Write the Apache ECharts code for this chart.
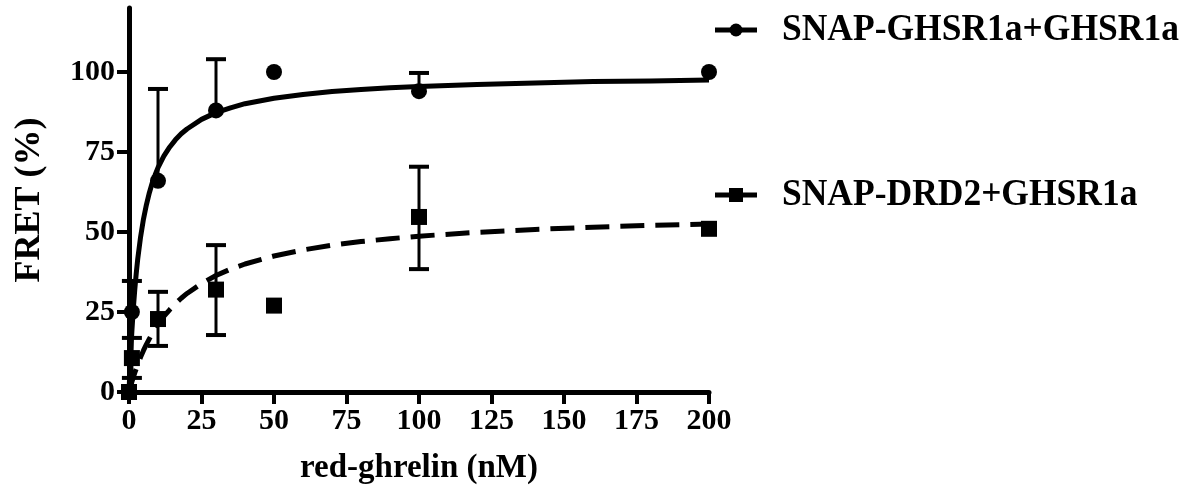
<!DOCTYPE html>
<html>
<head>
<meta charset="utf-8">
<script src="https://cdn.jsdelivr.net/npm/echarts@6/dist/echarts.min.js"></script>
<style>html,body{margin:0;padding:0;background:#fff}#c{width:1198px;height:492px}</style>
</head>
<body>
<div id="c"></div>
<script>
// ---- data ----
var concentrations = [0, 1, 10, 30, 50, 100, 200];
var ghsrMean  = [0, 25, 66, 88, 100, 94, 100];
var ghsrUpper = [null, 34.7, 94.7, 104, null, 99.7, null];
var drd2Mean  = [0, 10.6, 22.8, 32, 27, 54.7, 51];
var drd2Lower = [null, 4.4, 14.4, 17.8, null, 38.4, null];
var drd2Upper = [null, 16.9, 31.3, 45.9, null, 70.4, null];

// fitted curves
var ghsrFitX = [0, 0.25, 0.5, 0.75, 1, 1.5, 2, 2.5, 3, 4, 5, 6, 7, 8, 9, 10, 12, 14, 16, 18, 20, 25, 30, 35, 40, 50, 60, 70, 80, 90, 100, 120, 140, 160, 180, 200];
var ghsrFitY = [0, 5.6, 10.6, 15.1, 19.1, 26.2, 32.1, 37.1, 41.5, 48.5, 54.1, 58.5, 62.2, 65.3, 67.8, 70.1, 73.7, 76.5, 78.8, 80.7, 82.2, 85.2, 87.3, 88.8, 90.1, 91.8, 93.0, 93.9, 94.5, 95.1, 95.5, 96.1, 96.6, 97.0, 97.2, 97.5];
var drd2FitX = [0, 0.5, 1, 2, 3, 4, 5, 6, 7, 8, 10, 12, 14, 16, 18, 20, 25, 30, 35, 40, 50, 60, 70, 80, 90, 100, 120, 140, 160, 180, 200];
var drd2FitY = [0, 1.6, 3.2, 6.0, 8.6, 10.9, 13.0, 14.9, 16.6, 18.2, 21.1, 23.6, 25.7, 27.6, 29.3, 30.8, 33.9, 36.4, 38.4, 40.0, 42.5, 44.4, 45.9, 47.0, 47.9, 48.7, 49.9, 50.8, 51.5, 52.1, 52.5];

var xTicks = [0, 25, 50, 75, 100, 125, 150, 175, 200];
var yTicks = [0, 25, 50, 75, 100];
var seriesNames = ['SNAP-GHSR1a+GHSR1a', 'SNAP-DRD2+GHSR1a'];
var xTitle = 'red-ghrelin (nM)';
var yTitle = 'FRET (%)';

// ---- build ----
function zip(a, b) { return a.map(function (v, i) { return [v, b[i]]; }); }
var FONT = '"Liberation Serif", "Times New Roman", serif';

function errData(xs, lo, hi, mean) {
  var out = [];
  xs.forEach(function (x, i) {
    var hasLo = lo && lo[i] != null, hasHi = hi && hi[i] != null;
    if (hasLo || hasHi) out.push([x, mean[i], hasLo ? lo[i] : mean[i], hasHi ? hi[i] : mean[i]]);
  });
  return out;
}
function errRender(params, api) {
  var x = api.value(0), m = api.value(1), lo = api.value(2), hi = api.value(3);
  var pm = api.coord([x, m]), plo = api.coord([x, lo]), phi = api.coord([x, hi]);
  var capW = 10;
  var ch = [];
  ch.push({ type: 'line', shape: { x1: pm[0], y1: plo[1], x2: pm[0], y2: phi[1] }, style: { stroke: '#000', lineWidth: 3 } });
  if (hi !== m) ch.push({ type: 'line', shape: { x1: pm[0] - capW, y1: phi[1], x2: pm[0] + capW, y2: phi[1] }, style: { stroke: '#000', lineWidth: 4 } });
  if (lo !== m) ch.push({ type: 'line', shape: { x1: pm[0] - capW, y1: plo[1], x2: pm[0] + capW, y2: plo[1] }, style: { stroke: '#000', lineWidth: 4 } });
  return { type: 'group', children: ch };
}

var chart = echarts.init(document.getElementById('c'), null, { renderer: 'canvas' });
chart.setOption({
  animation: false,
  backgroundColor: '#fff',
  textStyle: { fontFamily: FONT },
  grid: { left: 129, right: 489, top: 8, bottom: 100, containLabel: false },
  xAxis: {
    type: 'value', min: 0, max: 200, interval: 25,
    name: xTitle, nameLocation: 'middle', nameGap: 60,
    nameTextStyle: { fontFamily: FONT, fontWeight: 'bold', fontSize: 33, color: '#000' },
    axisLine: { show: true, onZero: false, lineStyle: { color: '#000', width: 5 } },
    axisTick: { show: true, length: 12, lineStyle: { color: '#000', width: 4 }, customValues: xTicks },
    axisLabel: { margin: 14, fontFamily: FONT, fontWeight: 'bold', fontSize: 30, color: '#000', customValues: xTicks },
    splitLine: { show: false }
  },
  yAxis: {
    type: 'value', min: 0, max: 120,
    name: yTitle, nameLocation: 'middle', nameGap: 81, nameRotate: 90,
    nameTextStyle: { fontFamily: FONT, fontWeight: 'bold', fontSize: 36, color: '#000' },
    axisLine: { show: true, onZero: false, lineStyle: { color: '#000', width: 5 } },
    axisTick: { show: true, length: 12, lineStyle: { color: '#000', width: 4 }, customValues: yTicks },
    axisLabel: { margin: 14, fontFamily: FONT, fontWeight: 'bold', fontSize: 30, color: '#000', customValues: yTicks },
    splitLine: { show: false }
  },
  series: [
    { name: seriesNames[0] + ' fit', type: 'line', data: zip(ghsrFitX, ghsrFitY), showSymbol: false, symbol: 'none',
      smooth: false, lineStyle: { color: '#000', width: 5, join: 'round' }, z: 2, silent: true },
    { name: seriesNames[1] + ' fit', type: 'line', data: zip(drd2FitX, drd2FitY), showSymbol: false, symbol: 'none',
      smooth: false, lineStyle: { color: '#000', width: 5, type: [24, 11], cap: 'butt', join: 'round' }, z: 2, silent: true },
    { name: seriesNames[0] + ' err', type: 'custom', renderItem: errRender, data: errData(concentrations, null, ghsrUpper, ghsrMean), z: 3, silent: true },
    { name: seriesNames[1] + ' err', type: 'custom', renderItem: errRender, data: errData(concentrations, drd2Lower, drd2Upper, drd2Mean), z: 3, silent: true },
    { name: seriesNames[0], type: 'scatter', data: zip(concentrations, ghsrMean), symbol: 'circle', symbolSize: 16,
      itemStyle: { color: '#000', opacity: 1 }, z: 4 },
    { name: seriesNames[1], type: 'scatter', data: zip(concentrations, drd2Mean), symbol: 'rect', symbolSize: 16,
      itemStyle: { color: '#000', opacity: 1 }, z: 4 }
  ],
  graphic: [
    { type: 'line', shape: { x1: 715, y1: 30, x2: 757, y2: 30 }, style: { stroke: '#000', lineWidth: 5 } },
    { type: 'circle', shape: { cx: 736, cy: 30, r: 6.5 }, style: { fill: '#000' } },
    { type: 'text', x: 782, y: 30, scaleX: 0.934, style: { text: seriesNames[0], font: 'bold 38px ' + FONT, fill: '#000', verticalAlign: 'middle', align: 'left' } },
    { type: 'line', shape: { x1: 715, y1: 195, x2: 757, y2: 195 }, style: { stroke: '#000', lineWidth: 5 } },
    { type: 'rect', shape: { x: 729, y: 188, width: 14, height: 14 }, style: { fill: '#000' } },
    { type: 'text', x: 782, y: 195, scaleX: 0.934, style: { text: seriesNames[1], font: 'bold 38px ' + FONT, fill: '#000', verticalAlign: 'middle', align: 'left' } }
  ]
});
</script>
</body>
</html>
